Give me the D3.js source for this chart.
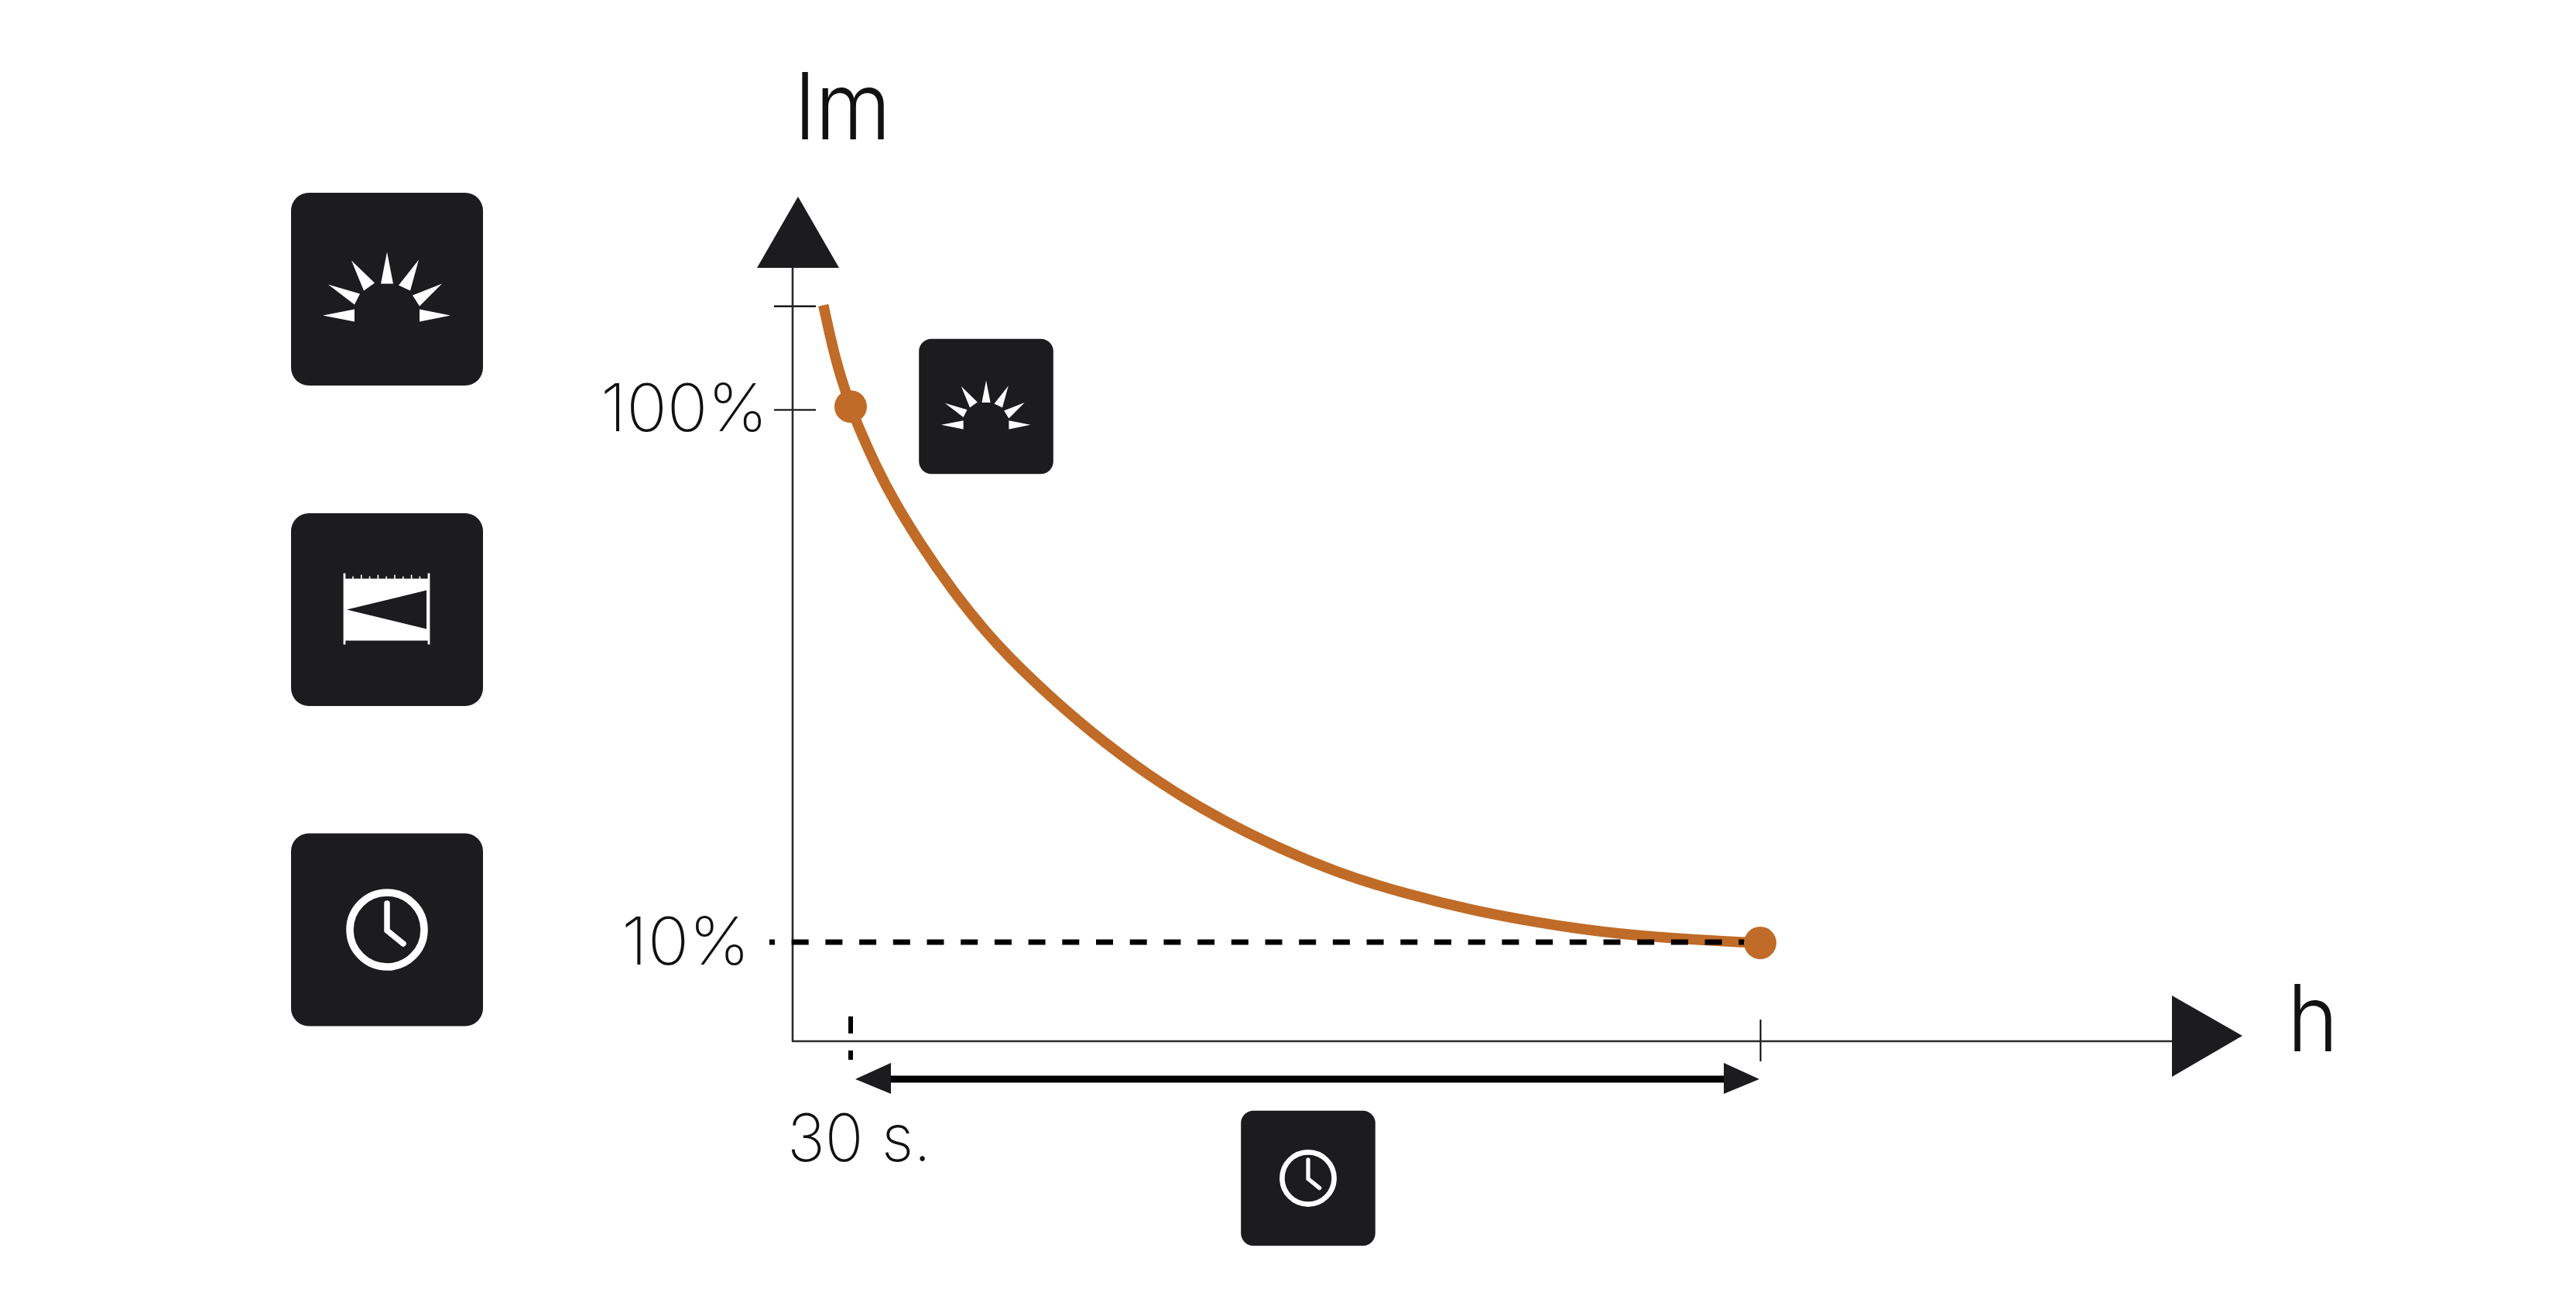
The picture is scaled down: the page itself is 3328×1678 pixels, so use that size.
<!DOCTYPE html>
<html>
<head>
<meta charset="utf-8">
<title>Lumen output curve</title>
<script src="https://cdn.jsdelivr.net/npm/d3@7"></script>
<style>
  html, body { margin: 0; padding: 0; background: #fff; }
  svg { display: block; }
  text { font-family: Inter, "Liberation Sans", sans-serif; fill: #111; }
</style>
</head>
<body>
<div id="chart"></div>
<script>
// Curve values: time as % of the set duration, output as % of the lumens
const curveTime = [-3.0, -1.6, 0, 0.7, 2.8, 4.9, 7.5, 11.0, 16.0, 22.0, 27.9, 34.4, 40.7, 46.9, 53.9, 61.2, 68.3, 75.6, 82.7, 89.9, 98.1, 100];
const curveLumen = [117.6, 107.7, 100.5, 97.6, 90.3, 84.2, 77.7, 69.8, 60.2, 51.4, 43.7, 36.5, 30.8, 26.1, 21.6, 18.2, 15.5, 13.4, 11.8, 10.8, 10.1, 10];

// The two marked points on the curve
const markerTime = [0, 100];
const markerLumen = [100.5, 10];

// Axis ticks and labels
const yTicks = [117.5, 100];
const xTicks = [100];
const yAxisLabel = "lm";
const xAxisLabel = "h";
const lumenLabels = ["100%", "10%"];
const timeLabel = "30 s.";

const width = 3328, height = 1678;
const dark = "#1c1b1e", copper = "#c06b27";

const svg = d3.select("#chart")
  .append("svg")
    .attr("width", width)
    .attr("height", height);

svg.append("rect").attr("width", width).attr("height", height).attr("fill", "#fff");

// Scales, anchored on the 30 s. / end of time and the 100% / 10% levels
const x = d3.scaleLinear().domain([0, 100]).range([1099, 2274]);
const y = d3.scaleLinear().domain([10, 100]).range([1218, 529]);

const axisX = 1024, axisY = 1345;
const poly = d3.line();

// X axis
svg.append("g")
    .attr("transform", `translate(0, ${axisY})`)
    .call(d3.axisBottom(x).tickValues(xTicks).tickSize(0).tickFormat(""))
    .call(g => g.select(".domain").remove())
    .call(g => g.selectAll(".tick line")
        .attr("y1", -28).attr("y2", 26)
        .attr("stroke", "#000").attr("stroke-width", 2));
svg.append("line")
    .attr("x1", axisX - 1).attr("x2", 2806)
    .attr("y1", axisY).attr("y2", axisY)
    .attr("stroke", "#2b2b2b").attr("stroke-width", 2.6);
svg.append("path")
    .attr("d", poly([[2806, 1286], [2897, 1338], [2806, 1391]]) + "Z")
    .attr("fill", dark);

// Y axis
svg.append("g")
    .attr("transform", `translate(${axisX}, 0)`)
    .call(d3.axisLeft(y).tickValues(yTicks).tickSize(0).tickFormat(""))
    .call(g => g.select(".domain").remove())
    .call(g => g.selectAll(".tick line")
        .attr("x1", -24).attr("x2", 30)
        .attr("stroke", "#000").attr("stroke-width", 2.2));
svg.append("line")
    .attr("x1", axisX).attr("x2", axisX)
    .attr("y1", 346).attr("y2", axisY)
    .attr("stroke", "#2b2b2b").attr("stroke-width", 2.6);
svg.append("path")
    .attr("d", poly([[978, 346], [1031, 254], [1084, 346]]) + "Z")
    .attr("fill", dark);

// Lumen curve
const curve = d3.line()
    .x(i => x(curveTime[i]))
    .y(i => y(curveLumen[i]))
    .curve(d3.curveBasis);

svg.append("path")
    .attr("d", curve(d3.range(curveTime.length)))
    .attr("fill", "none")
    .attr("stroke", copper)
    .attr("stroke-width", 13.5);

// 10% guide
svg.append("line")
    .attr("x1", 994).attr("x2", x(100))
    .attr("y1", y(10) - 1).attr("y2", y(10) - 1)
    .attr("stroke", "#000")
    .attr("stroke-width", 7)
    .attr("stroke-dasharray", "22 21.7")
    .attr("stroke-dashoffset", 15);

// 30 s. guide
svg.append("line")
    .attr("x1", x(0)).attr("x2", x(0))
    .attr("y1", 1313).attr("y2", 1369)
    .attr("stroke", "#000")
    .attr("stroke-width", 6)
    .attr("stroke-dasharray", "22 22");

// Markers
svg.selectAll("circle.marker")
  .data(d3.range(markerTime.length))
  .join("circle")
    .attr("class", "marker")
    .attr("cx", i => x(markerTime[i]))
    .attr("cy", i => y(markerLumen[i]))
    .attr("r", 21)
    .attr("fill", copper);

// Duration arrow
svg.append("line")
    .attr("x1", 1151).attr("x2", 2227)
    .attr("y1", 1394).attr("y2", 1394)
    .attr("stroke", "#000").attr("stroke-width", 9);
svg.append("path").attr("d", poly([[1105, 1394], [1151, 1373], [1151, 1413]]) + "Z").attr("fill", dark);
svg.append("path").attr("d", poly([[2273, 1394], [2227, 1373], [2227, 1413]]) + "Z").attr("fill", dark);

// Text
function label(str, left, baseline, size, weight, length) {
  svg.append("text")
      .attr("x", left)
      .attr("y", baseline)
      .attr("textLength", length)
      .attr("lengthAdjust", "spacingAndGlyphs")
      .style("font-size", size + "px")
      .style("font-weight", weight)
      .text(str);
}
label(yAxisLabel, 1027, 180, 120, 300, 124);
label(xAxisLabel, 2955, 1358, 120, 300, 66);
label(lumenLabels[0], 776, 557, 85, 200, 216);
label(lumenLabels[1], 803, 1246, 85, 200, 166);
label(timeLabel, 1017, 1500, 85, 200, 186);

// Icons, drawn on a 248 px tile centred on (0, 0)
const sunRays = [
  [[-83, 34], [-42, 26], [-42, 42]],
  [[-76, -6], [-35, 6], [-42, 20]],
  [[-46, -37], [-16, -8], [-30, 2]],
  [[0, -48], [-8, -7], [8, -7]],
  [[41, -38], [15, -5], [30, 2]],
  [[71, -7], [33, 8], [42, 22]],
  [[82, 34], [42, 26], [42, 42]]
];

function tile(cx, cy, k) {
  const g = svg.append("g").attr("transform", `translate(${cx}, ${cy}) scale(${k})`);
  g.append("rect")
      .attr("x", -124).attr("y", -124.5)
      .attr("width", 248).attr("height", 249)
      .attr("rx", 23)
      .attr("fill", dark);
  return g;
}

function sunIcon(cx, cy, k) {
  const g = tile(cx, cy, k);
  g.selectAll("path")
    .data(sunRays)
    .join("path")
      .attr("d", d => poly(d) + "Z")
      .attr("fill", "#fff");
}

function clockIcon(cx, cy, k) {
  const g = tile(cx, cy, k);
  g.append("circle").attr("r", 48).attr("fill", "none").attr("stroke", "#fff").attr("stroke-width", 9.5);
  g.append("path")
      .attr("d", poly([[0, -34], [0, 1], [21, 18]]))
      .attr("fill", "none")
      .attr("stroke", "#fff")
      .attr("stroke-width", 7.5)
      .attr("stroke-linecap", "round");
}

function rulerIcon(cx, cy, k) {
  const g = tile(cx, cy, k);
  g.append("rect").attr("x", -54).attr("y", -40).attr("width", 108).attr("height", 80).attr("fill", "#fff");
  g.append("path").attr("d", poly([[-52, 0], [51, -25], [51, 25]]) + "Z").attr("fill", dark);
  [-55, 54].forEach(px => {
    g.append("line")
        .attr("x1", px).attr("x2", px).attr("y1", -47).attr("y2", 45)
        .attr("stroke", "#fff").attr("stroke-width", 2.8);
  });
  d3.range(9).forEach(i => {
    g.append("line")
        .attr("x1", -44 + i * 10.8).attr("x2", -44 + i * 10.8)
        .attr("y1", i % 2 ? -45 : -43).attr("y2", -39)
        .attr("stroke", "#fff").attr("stroke-width", 1.6);
  });
}

sunIcon(500, 373.5, 1);
rulerIcon(500, 787.5, 1);
clockIcon(500, 1201, 1);
sunIcon(1274, 525, 0.7);
clockIcon(1690, 1522, 0.7);
</script>
</body>
</html>
